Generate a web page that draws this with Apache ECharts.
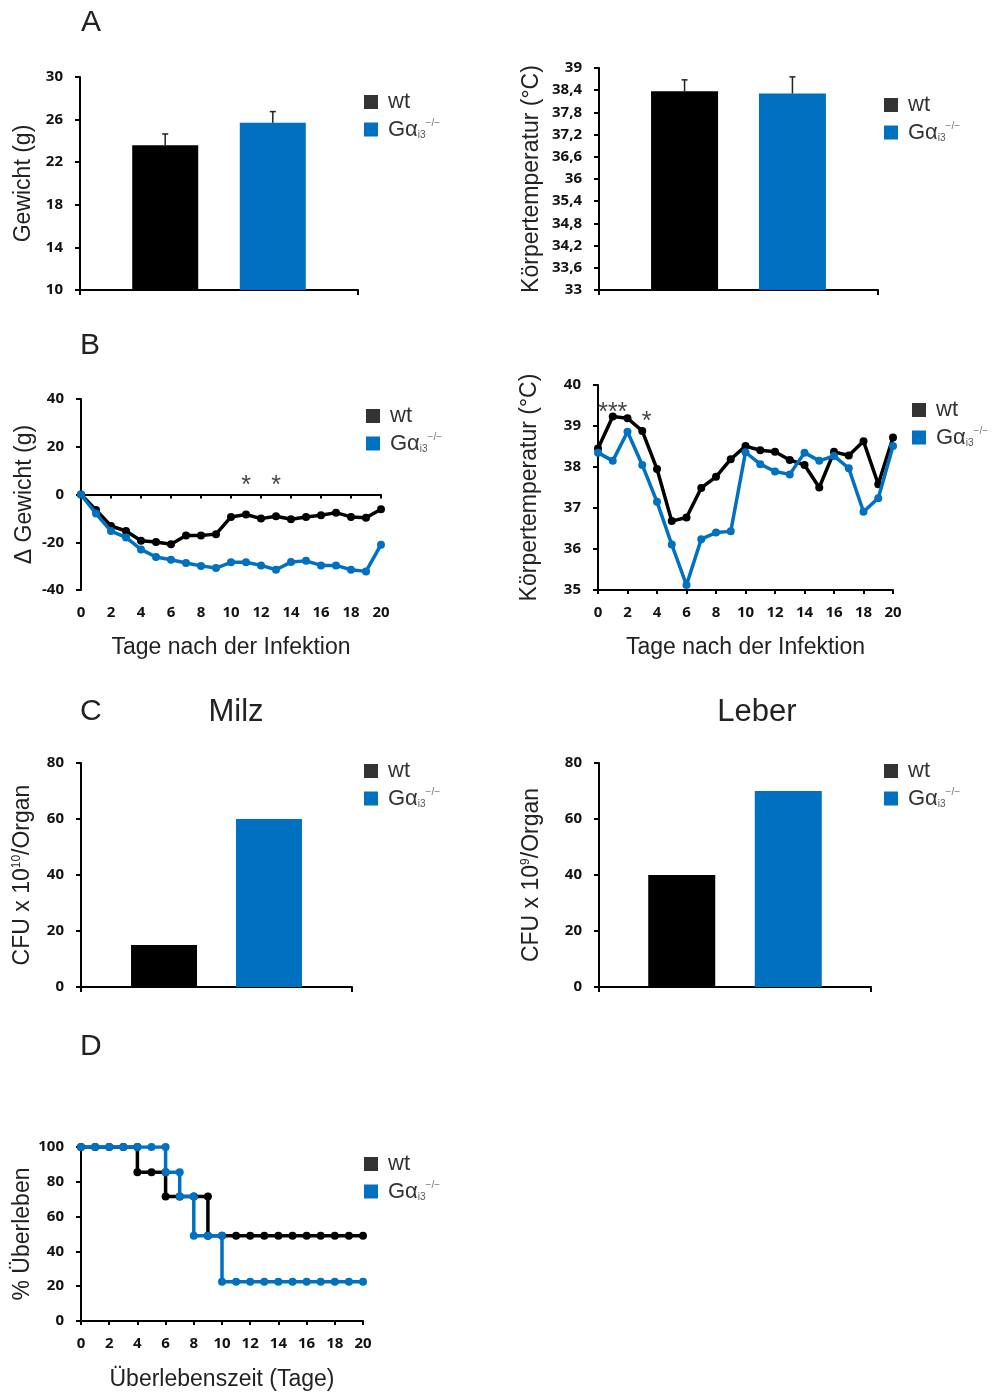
<!DOCTYPE html>
<html><head><meta charset="utf-8">
<script src="https://cdn.jsdelivr.net/npm/echarts@6/dist/echarts.min.js"></script>
<style>html,body{margin:0;padding:0;background:#fff}#c{width:992px;height:1392px}</style>
</head><body><div id="c"></div>
<script>
// ---------- DATA ----------
const groups = ['wt', 'Gαi3'];
// A: body weight and body temperature before infection (mean, upper error)
const weightMean = [23.6, 25.7];
const weightErr = [1.05, 1.05];
const tempMean = [38.37, 38.31];
const tempErr = [0.31, 0.45];
// B: days after infection
const days = [0,1,2,3,4,5,6,7,8,9,10,11,12,13,14,15,16,17,18,19,20];
const wtDeltaWeight = [0,-6.5,-13.2,-15.3,-19.4,-19.9,-20.8,-17.2,-17.2,-16.6,-9.4,-8.4,-10.1,-9.1,-10.4,-9.4,-8.7,-7.6,-9.4,-9.7,-6.2];
const koDeltaWeight = [0,-8,-15.3,-18,-23,-26.2,-27.3,-28.7,-29.9,-30.8,-28.4,-28.4,-29.7,-31.5,-28.3,-27.8,-29.7,-29.7,-31.5,-32.2,-21];
const weightSigDays = [11, 13];
const weightSigLevel = [6, 6];
const weightSigText = ['*', '*'];
const wtTemp = [38.45,39.23,39.19,38.88,37.95,36.68,36.77,37.49,37.76,38.19,38.51,38.41,38.37,38.17,38.05,37.5,38.37,38.28,38.63,37.58,38.72];
const koTemp = [38.35,38.15,38.86,38.05,37.15,36.11,35.12,36.24,36.4,36.43,38.36,38.07,37.89,37.82,38.35,38.15,38.27,37.97,36.91,37.24,38.51];
const tempSigDays = [1, 3.3];
const tempSigLevel = [39.46, 39.24];
const tempSigText = ['***', '*'];
// C: bacterial load
const cfuMilz = [15, 60];
const cfuLeber = [40, 70];
// D: survival (Kaplan-Meier steps, repeated day = step)
const survWtDays = [0,1,2,3,4,4,5,6,6,7,8,9,9,10,11,12,13,14,15,16,17,18,19,20];
const survWt =     [100,100,100,100,100,85.5,85.5,85.5,71.5,71.5,71.5,71.5,49,49,49,49,49,49,49,49,49,49,49,49];
const survKoDays = [0,1,2,3,4,5,6,6,7,7,8,8,9,10,10,11,12,13,14,15,16,17,18,19,20];
const survKo =     [100,100,100,100,100,100,100,85.5,85.5,71.5,71.5,49,49,49,22.5,22.5,22.5,22.5,22.5,22.5,22.5,22.5,22.5,22.5,22.5];

// ---------- STYLE ----------
const BLACK = '#000000', BLUE = '#0070C0';
const SANS = 'Liberation Sans';
const TICKF = 'Open Sans';
const TXT = '#222';

const chart = echarts.init(document.getElementById('c'), null, {renderer: 'canvas'});

const grids = [
  {left: 80, top: 77, width: 278, height: 213},   // A left
  {left: 599, top: 68, width: 279, height: 222},  // A right
  {left: 81, top: 399, width: 300, height: 191},  // B left
  {left: 598, top: 385, width: 295, height: 205}, // B right
  {left: 81, top: 763, width: 271, height: 224},  // C left
  {left: 599, top: 763, width: 272, height: 224}, // C right
  {left: 81, top: 1147, width: 282, height: 174}  // D
];

const axisLine = {show: true, lineStyle: {color: '#000', width: 2}};
const axisTick = {show: true, length: 5, lineStyle: {color: '#000', width: 2}};
const tickLabel = (m) => ({fontFamily: TICKF, fontWeight: 'bold', fontSize: 15, color: '#111', margin: m});

const nameRich = {
  n: {fontFamily: SANS, fontSize: 23, color: TXT},
  p: {fontFamily: SANS, fontSize: 12, color: TXT, verticalAlign: 'top', lineHeight: 12}
};

function yAxis(i, min, max, interval, name, gap, fmt) {
  return {
    type: 'value', gridIndex: i, min, max, interval,
    name, nameLocation: 'middle', nameGap: gap, nameRotate: 90,
    nameTextStyle: {fontFamily: SANS, fontSize: 23, color: TXT, rich: nameRich},
    axisLine, axisTick, splitLine: {show: false},
    axisLabel: Object.assign(tickLabel(17), fmt ? {formatter: fmt} : {})
  };
}
function xCat(i) {
  return {type: 'category', gridIndex: i, data: [''], axisLine, axisTick: {show: true, length: 5, lineStyle: {color: '#000', width: 2}},
    axisLabel: {show: false}, splitLine: {show: false}};
}
function xVal(i, name, gap) {
  return {
    type: 'value', gridIndex: i, min: 0, max: 20, interval: 2,
    name, nameLocation: 'middle', nameGap: gap,
    nameTextStyle: {fontFamily: SANS, fontSize: 23, color: TXT},
    axisLine, axisTick: {show: true, length: 4, lineStyle: {color: '#000', width: 2}},
    splitLine: {show: false}, axisLabel: tickLabel(15)
  };
}

const commaFmt = v => String(+v.toFixed(1)).replace('.', ',');

const xAxes = [xCat(0), xCat(1), xVal(2, 'Tage nach der Infektion', 46), xVal(3, 'Tage nach der Infektion', 46), xCat(4), xCat(5), xVal(6, 'Überlebenszeit (Tage)', 47)];
const yAxes = [
  yAxis(0, 10, 30, 4, 'Gewicht (g)', 45),
  yAxis(1, 33, 39, 0.6, 'Körpertemperatur (°C)', 56, commaFmt),
  yAxis(2, -40, 40, 20, 'Δ Gewicht (g)', 45),
  yAxis(3, 35, 40, 1, 'Körpertemperatur (°C)', 57),
  yAxis(4, 0, 80, 20, '{n|CFU x 10}{p|10}{n|/Organ}', 47),
  yAxis(5, 0, 80, 20, '{n|CFU x 10}{p|9}{n|/Organ}', 56),
  yAxis(6, 0, 100, 20, '% Überleben', 46)
];

const series = [];
function barPair(i, vals, barW, gapRatio, errs) {
  const colors = [BLACK, BLUE];
  groups.forEach((g, k) => {
    series.push({type: 'bar', name: g, xAxisIndex: i, yAxisIndex: i, data: [vals[k]],
      barWidth: barW, barGap: Math.round(gapRatio * 100) + '%', itemStyle: {color: colors[k]}, z: 2});
  });
  if (errs) {
    const off = barW * (1 + gapRatio) / 2;
    groups.forEach((g, k) => {
      series.push({type: 'custom', name: g + '-err', xAxisIndex: i, yAxisIndex: i, z: 3,
        data: [[0, vals[k], vals[k] + errs[k]]],
        renderItem(params, api) {
          const p0 = api.coord([0, api.value(1)]);
          const p1 = api.coord([0, api.value(2)]);
          const x = p0[0] + (k === 0 ? -off : off);
          const st = {stroke: '#222', lineWidth: 1.5};
          return {type: 'group', children: [
            {type: 'line', shape: {x1: x, y1: p0[1], x2: x, y2: p1[1]}, style: st},
            {type: 'line', shape: {x1: x - 3, y1: p1[1], x2: x + 3, y2: p1[1]}, style: st}
          ]};
        }});
    });
  }
}
function linePair(i, xs, a, xs2, b) {
  const mk = (X, Y) => X.map((d, j) => [d, Y[j]]);
  series.push({type: 'line', name: groups[0], xAxisIndex: i, yAxisIndex: i, data: mk(xs, a),
    symbol: 'circle', symbolSize: 8, lineStyle: {color: BLACK, width: 3.5}, itemStyle: {color: BLACK}, z: 2});
  series.push({type: 'line', name: groups[1], xAxisIndex: i, yAxisIndex: i, data: mk(xs2, b),
    symbol: 'circle', symbolSize: 8, lineStyle: {color: BLUE, width: 3.5}, itemStyle: {color: BLUE}, z: 3});
}
function sigMarks(i, xs, ys, txt) {
  series.push({type: 'scatter', name: 'sig', xAxisIndex: i, yAxisIndex: i, symbolSize: 0, silent: true,
    data: xs.map((d, j) => [d, ys[j], txt[j]]),
    label: {show: true, position: 'inside', formatter: p => p.value[2], fontFamily: SANS, fontSize: 25, color: '#111', offset: [0, 6]}, z: 5});
}

barPair(0, weightMean, 66, 0.63, weightErr);
barPair(1, tempMean, 67, 0.61, tempErr);
linePair(2, days, wtDeltaWeight, days, koDeltaWeight);
sigMarks(2, weightSigDays, weightSigLevel, weightSigText);
linePair(3, days, wtTemp, days, koTemp);
sigMarks(3, tempSigDays, tempSigLevel, tempSigText);
barPair(4, cfuMilz, 66, 0.59, null);
barPair(5, cfuLeber, 67, 0.59, null);
linePair(6, survWtDays, survWt, survKoDays, survKo);

const legendPos = [[359, 86], [879, 89], [361, 400], [907, 394], [359, 755], [879, 755], [359, 1148]];
const legends = legendPos.map(([l, t]) => ({
  orient: 'vertical', left: l, top: t, itemWidth: 14, itemHeight: 14, itemGap: 5.5,
  icon: 'rect', selectedMode: false,
  data: [{name: 'wt', itemStyle: {color: '#333'}}, {name: 'Gαi3', itemStyle: {color: BLUE}}],
  formatter: n => n === 'wt' ? '{m|wt}' : '{m|Gα}{s|i3}{p|−/−}',
  textStyle: {fontFamily: SANS, fontSize: 21, color: '#333', padding: [0, 0, 0, 5],
    rich: {
      m: {fontFamily: SANS, fontSize: 22, lineHeight: 22, color: '#333'},
      s: {fontFamily: SANS, fontSize: 10, lineHeight: 10, color: '#555', verticalAlign: 'bottom'},
      p: {fontFamily: SANS, fontSize: 10, lineHeight: 10, color: '#777', verticalAlign: 'top'}
    }}
}));

const labels = [
  {t: 'A', x: 81, y: 23, s: 30},
  {t: 'B', x: 80, y: 346, s: 30},
  {t: 'C', x: 80, y: 712, s: 30},
  {t: 'D', x: 80, y: 1047, s: 30},
  {t: 'Milz', x: 236, y: 712, s: 31, c: true},
  {t: 'Leber', x: 757, y: 712, s: 31, c: true}
];
const graphic = labels.map(o => ({type: 'text', x: o.x, y: o.y, silent: true,
  style: {text: o.t, font: o.s + 'px "' + SANS + '"', fill: TXT, align: o.c ? 'center' : 'left', verticalAlign: 'middle'}}));

chart.setOption({
  animation: false,
  backgroundColor: '#fff',
  grid: grids,
  xAxis: xAxes,
  yAxis: yAxes,
  legend: legends,
  graphic,
  series
});
</script></body></html>
